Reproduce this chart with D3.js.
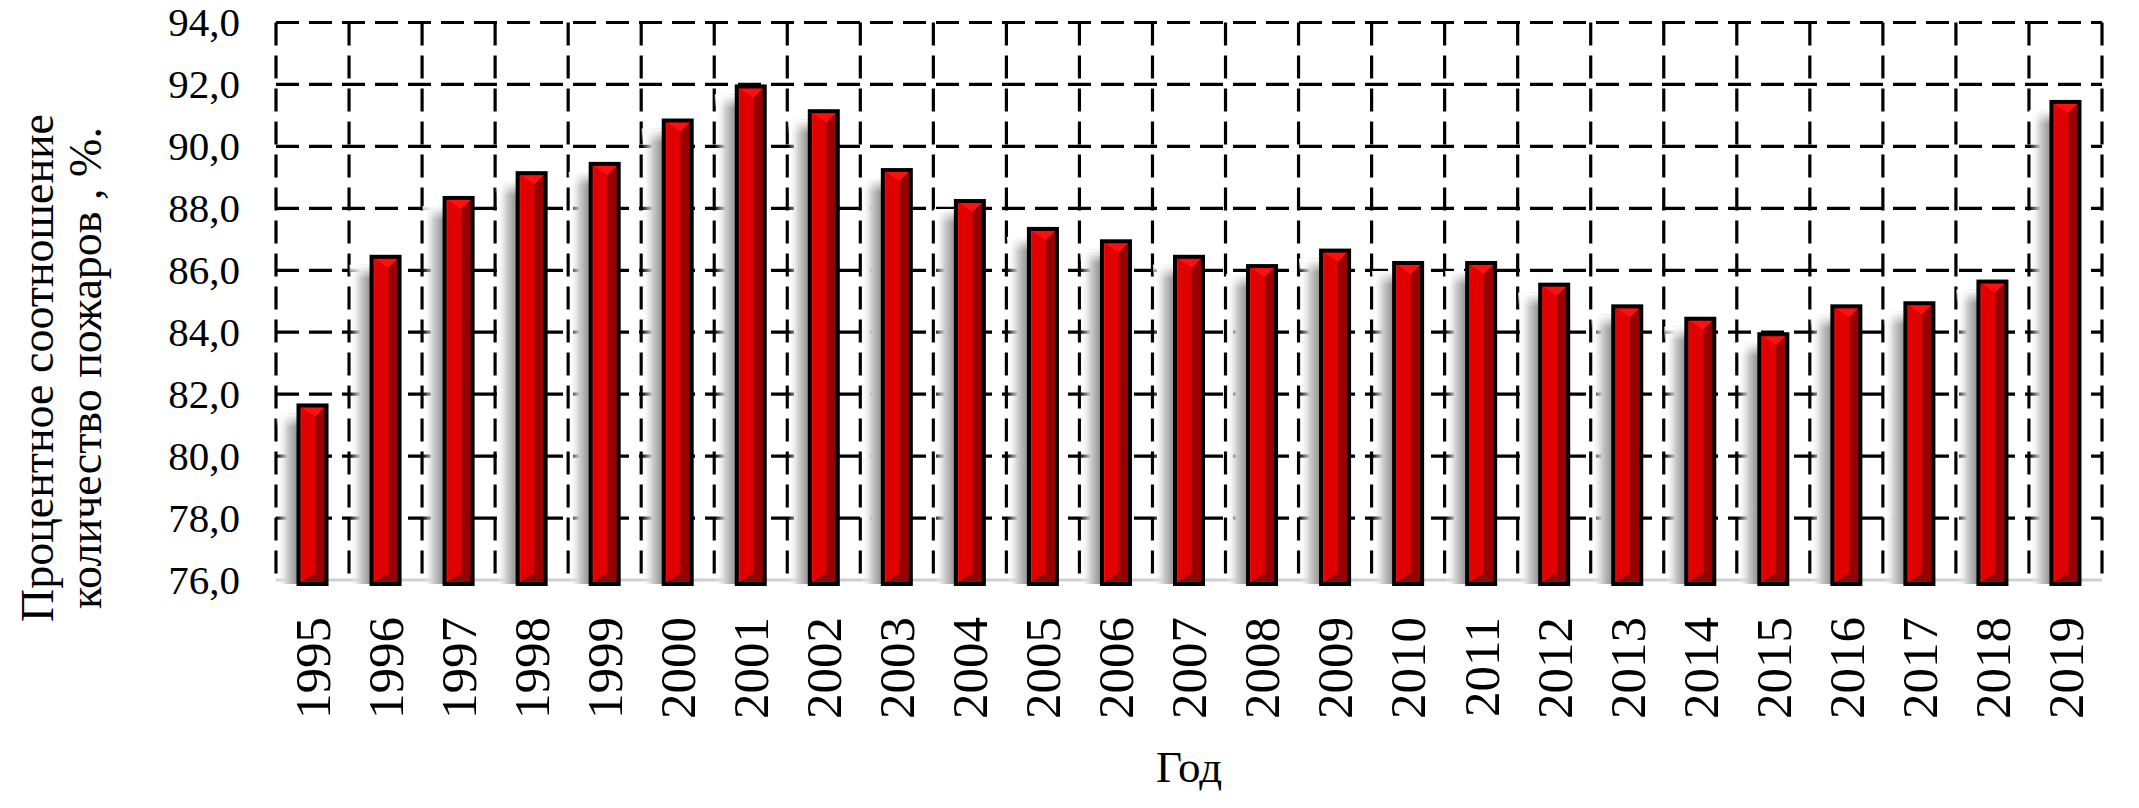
<!DOCTYPE html>
<html>
<head>
<meta charset="utf-8">
<script src="https://cdn.jsdelivr.net/npm/d3@7"></script>
<style>
  html, body { margin: 0; padding: 0; background: #fff; }
  svg { display: block; }
  text { font-family: "Liberation Serif", "Times New Roman", serif; fill: #000; }
</style>
</head>
<body>
<svg id="chart" width="2139" height="808"></svg>
<script>
const years = ["1995","1996","1997","1998","1999","2000","2001","2002","2003","2004","2005","2006","2007","2008","2009","2010","2011","2012","2013","2014","2015","2016","2017","2018","2019"];
const values = [81.7, 86.5, 88.4, 89.2, 89.5, 90.9, 92.0, 91.2, 89.3, 88.3, 87.4, 87.0, 86.5, 86.2, 86.7, 86.3, 86.3, 85.6, 84.9, 84.5, 84.0, 84.9, 85.0, 85.7, 91.5];
const yTicks = [76, 78, 80, 82, 84, 86, 88, 90, 92, 94];
const yTitleLines = ["Процентное соотношение", "количество пожаров , %."];
const xTitle = "Год";

const data = years.map((y, i) => ({ year: y, value: values[i] }));

const svg = d3.select("#chart");
const L = 276, R = 2102, T = 22.5, B = 580;

const x = d3.scaleBand().domain(years).range([L, R]).padding(0);
const y = d3.scaleLinear().domain([76, 94]).range([B, T]);

const defs = svg.append("defs");
const sg = defs.append("linearGradient").attr("id", "shadow").attr("x1", "0").attr("x2", "1").attr("y1", "0").attr("y2", "0");
sg.append("stop").attr("offset", "0").attr("stop-color", "#ffffff").attr("stop-opacity", 0);
sg.append("stop").attr("offset", "0.5").attr("stop-color", "#cccccc").attr("stop-opacity", 1);
sg.append("stop").attr("offset", "1").attr("stop-color", "#8a8a8a").attr("stop-opacity", 1);
const sv = defs.append("linearGradient").attr("id", "shadowTop").attr("x1", "0").attr("x2", "0").attr("y1", "0").attr("y2", "1");
sv.append("stop").attr("offset", "0").attr("stop-color", "#fff").attr("stop-opacity", 1);
sv.append("stop").attr("offset", "1").attr("stop-color", "#fff").attr("stop-opacity", 0);

// grid
const dash = "23,10";
const grid = svg.append("g");
grid.selectAll("line.h").data(yTicks.filter(t => t > 76)).enter().append("line")
  .attr("x1", L).attr("x2", R).attr("y1", d => y(d)).attr("y2", d => y(d))
  .attr("stroke", "#000").attr("stroke-width", 3.2).attr("stroke-dasharray", dash);
const bounds = years.map(d => x(d)).concat([x(years[years.length - 1]) + x.bandwidth()]);
grid.selectAll("line.v").data(bounds).enter().append("line")
  .attr("x1", d => d).attr("x2", d => d).attr("y1", T).attr("y2", B)
  .attr("stroke", "#000").attr("stroke-width", 3.2).attr("stroke-dasharray", dash);

// baseline
svg.append("line").attr("x1", L).attr("x2", R).attr("y1", B).attr("y2", B)
  .attr("stroke", "#cfcfcf").attr("stroke-width", 3);

// bars
const bw = 28; // inner width (stroke 4 centered -> 32 outer)
const bars = svg.append("g").selectAll("g").data(data).enter().append("g")
  .attr("transform", d => `translate(${x(d.year) + x.bandwidth() / 2},0)`);

bars.append("rect")
  .attr("x", -bw / 2 - 22).attr("width", 22)
  .attr("y", d => y(d.value) + 10).attr("height", d => B + 4 - y(d.value) - 10)
  .attr("fill", "url(#shadow)");
bars.append("rect")
  .attr("x", -bw / 2 - 22).attr("width", 22)
  .attr("y", d => y(d.value) + 10).attr("height", 14)
  .attr("fill", "url(#shadowTop)");

const xl = -bw / 2, xr = bw / 2, xm = -bw / 2 + bw * 0.6;
bars.append("rect")
  .attr("x", xl).attr("width", bw)
  .attr("y", d => y(d.value) + 2).attr("height", d => B + 2 - y(d.value))
  .attr("fill", "#e00000");
bars.append("rect")
  .attr("x", xm).attr("width", xr - xm)
  .attr("y", d => y(d.value) + 2).attr("height", d => B + 2 - y(d.value))
  .attr("fill", "#980000");
bars.append("rect")
  .attr("x", xl).attr("width", 3)
  .attr("y", d => y(d.value) + 2).attr("height", d => B + 2 - y(d.value))
  .attr("fill", "#f01010");
bars.append("polygon")
  .attr("points", d => { const t = y(d.value) + 2; return `${xl},${t} ${xr},${t} ${xm},${t + 11}`; })
  .attr("fill", "#ff1010");
bars.append("polygon")
  .attr("points", d => { const b = B + 4; return `${xl},${b} ${xr},${b} ${xm},${b - 11}`; })
  .attr("fill", "#8a0a0a");
bars.append("rect")
  .attr("x", xl).attr("width", bw)
  .attr("y", d => y(d.value) + 2).attr("height", d => B + 2 - y(d.value))
  .attr("fill", "none").attr("stroke", "#000").attr("stroke-width", 4);

// y tick labels
svg.append("g").selectAll("text").data(yTicks).enter().append("text")
  .attr("x", 240).attr("y", d => y(d)).attr("dy", "0.34em")
  .attr("text-anchor", "end").attr("font-size", 41)
  .text(d => d.toFixed(1).replace(".", ","));

// x tick labels
svg.append("g").selectAll("text").data(years).enter().append("text")
  .attr("transform", d => `translate(${x(d) + x.bandwidth() / 2},617) rotate(-90)`)
  .attr("dy", "0.34em").attr("text-anchor", "end").attr("font-size", 51)
  .text(d => d);

// axis titles
svg.append("text").attr("x", (L + R) / 2).attr("y", 782).attr("text-anchor", "middle")
  .attr("font-size", 45).text(xTitle);

svg.append("g").selectAll("text").data(yTitleLines).enter().append("text")
  .attr("transform", (d, i) => `translate(${53 + i * 48},368) rotate(-90)`)
  .attr("text-anchor", "middle").attr("font-size", 46)
  .text(d => d);
</script>
</body>
</html>
